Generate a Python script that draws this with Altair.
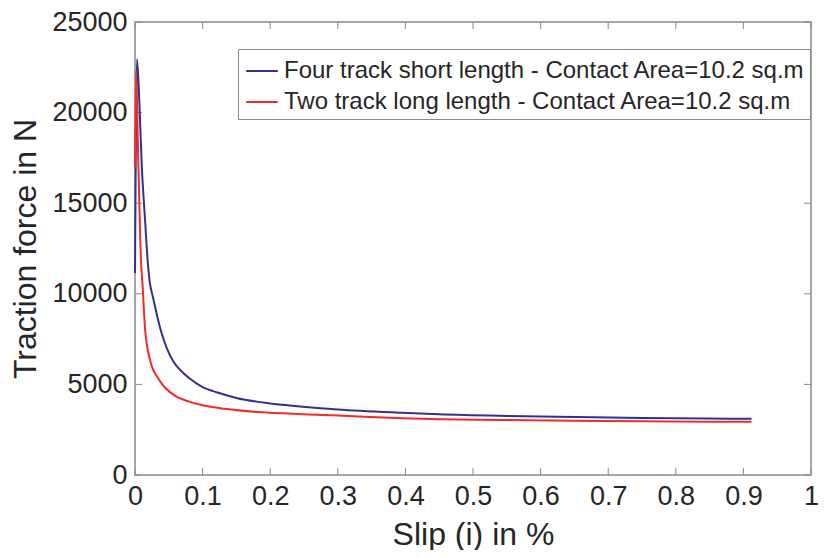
import altair as alt
import pandas as pd

series_names = [
    "Four track short length - Contact Area=10.2 sq.m",
    "Two track long length - Contact Area=10.2 sq.m",
]

blue_slip = [0.0, 0.003, 0.007, 0.010, 0.015, 0.019, 0.022, 0.026, 0.038, 0.047, 0.057, 0.068,
             0.08, 0.10, 0.122, 0.15, 0.20, 0.24, 0.30, 0.385, 0.45, 0.55, 0.65, 0.75, 0.85, 0.912]
blue_force = [11150, 22950, 20000, 17100, 14000, 11700, 10600, 9900, 8000, 7000, 6250, 5750,
              5350, 4850, 4550, 4250, 3950, 3800, 3620, 3450, 3350, 3260, 3200, 3150, 3120, 3100]

red_slip = [0.0, 0.0015, 0.005, 0.009, 0.011, 0.015, 0.023, 0.035, 0.045, 0.06, 0.08,
            0.10, 0.133, 0.20, 0.24, 0.30, 0.385, 0.45, 0.55, 0.65, 0.75, 0.85, 0.912]
red_force = [17000, 22300, 17100, 11700, 10600, 8000, 6250, 5300, 4800, 4350, 4050,
             3850, 3650, 3430, 3370, 3280, 3150, 3080, 3030, 2990, 2960, 2940, 2935]

x_ticks = [0, 0.1, 0.2, 0.3, 0.4, 0.5, 0.6, 0.7, 0.8, 0.9, 1]
y_ticks = [0, 5000, 10000, 15000, 20000, 25000]

colors = ["#31318f", "#f42a2a"]
axis_gray = "#8a8a8a"
text_gray = "#262626"
FONT = "Liberation Sans"
W, H = 676, 453
TL = 7

rows = []
for s, f in zip(blue_slip, blue_force):
    rows.append({"slip": s, "force": f, "series": series_names[0], "k": 0})
for s, f in zip(red_slip, red_force):
    rows.append({"slip": s, "force": f, "series": series_names[1], "k": 1})
df = pd.DataFrame(rows)

xscale = alt.Scale(domain=[0, 1], nice=False)
yscale = alt.Scale(domain=[0, 25000], nice=False)

lines = alt.Chart(df).mark_line(strokeWidth=2, interpolate="monotone").encode(
    x=alt.X("slip:Q", scale=xscale,
            axis=alt.Axis(title="Slip (i) in %", values=x_ticks, format="~g",
                          domain=False, ticks=False, grid=False, labelFlush=False,
                          labelFontSize=27, labelColor=text_gray, labelPadding=8,
                          titleFontSize=32, titleColor=text_gray, titleFontWeight="normal",
                          titlePadding=10, labelFont=FONT, titleFont=FONT)),
    y=alt.Y("force:Q", scale=yscale,
            axis=alt.Axis(title="Traction force in N", values=y_ticks, format="d",
                          domain=False, ticks=False, grid=False, labelFlush=False,
                          labelFontSize=27, labelColor=text_gray, labelPadding=8,
                          titleFontSize=32, titleColor=text_gray, titleFontWeight="normal",
                          titlePadding=9, labelFont=FONT, titleFont=FONT)),
    color=alt.Color("series:N", scale=alt.Scale(domain=series_names, range=colors),
                    legend=alt.Legend(title=None, orient="none", legendX=103, legendY=27,
                                      symbolType="stroke", symbolStrokeWidth=2,
                                      symbolSize=1000, symbolOffset=2,
                                      labelFontSize=24, labelFont=FONT,
                                      labelColor=text_gray, labelLimit=800,
                                      strokeColor=axis_gray, fillColor="white",
                                      padding=5, rowPadding=2, labelOffset=5)),
    order="k:Q",
    detail="series:N",
)

xt = pd.DataFrame({"v": x_ticks})
yt = pd.DataFrame({"v": y_ticks})

xb = alt.Chart(xt).mark_rule(color=axis_gray, strokeWidth=1).encode(
    x=alt.X("v:Q", scale=xscale), y=alt.value(H), y2=alt.value(H - TL))
xtop = alt.Chart(xt).mark_rule(color=axis_gray, strokeWidth=1).encode(
    x=alt.X("v:Q", scale=xscale), y=alt.value(0), y2=alt.value(TL))
yl = alt.Chart(yt).mark_rule(color=axis_gray, strokeWidth=1).encode(
    y=alt.Y("v:Q", scale=yscale), x=alt.value(0), x2=alt.value(TL))
yr = alt.Chart(yt).mark_rule(color=axis_gray, strokeWidth=1).encode(
    y=alt.Y("v:Q", scale=yscale), x=alt.value(W), x2=alt.value(W - TL))

chart = alt.layer(xb, xtop, yl, yr, lines).properties(
    width=W, height=H,
    autosize=alt.AutoSizeParams(type="none"),
    padding={"left": 127, "top": 14, "right": 9, "bottom": 75},
    background="white",
).configure_view(stroke=axis_gray, strokeWidth=1.5)

chart.save("out.html", embed_options={"renderer": "svg", "actions": False})
